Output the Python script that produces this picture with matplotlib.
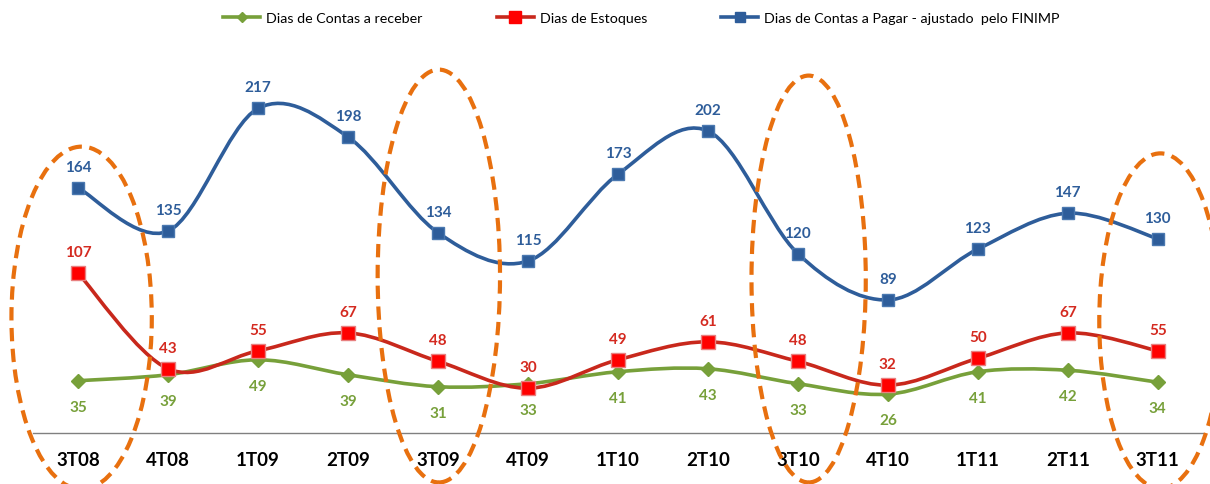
import matplotlib
matplotlib.use("Agg")
import matplotlib.pyplot as plt
from matplotlib.path import Path
from matplotlib.patches import PathPatch, Ellipse
from matplotlib.lines import Line2D
import numpy as np

plt.rcParams['font.family'] = ['Lato', 'DejaVu Sans']

quarters = ['3T08', '4T08', '1T09', '2T09', '3T09', '4T09', '1T10',
            '2T10', '3T10', '4T10', '1T11', '2T11', '3T11']
receber = [35, 39, 49, 39, 31, 33, 41, 43, 33, 26, 41, 42, 34]
estoques = [107, 43, 55, 67, 48, 30, 49, 61, 48, 32, 50, 67, 55]
pagar = [164, 135, 217, 198, 134, 115, 173, 202, 120, 89, 123, 147, 130]
highlight = ['3T08', '3T09', '3T10', '3T11']

GREEN = '#77A03A'
RED_LINE = '#C8281C'
RED_MK = '#FF0000'
BLUE = '#2E5D9A'
ORANGE = '#E8700F'


def smooth_path(xs, ys):
    # Excel-style smoothed line (Catmull-Rom as cubic Bezier)
    pts = np.column_stack([xs, ys]).astype(float)
    n = len(pts)
    verts = [pts[0]]
    codes = [Path.MOVETO]
    for i in range(n - 1):
        p0 = pts[max(i - 1, 0)]
        p1 = pts[i]
        p2 = pts[i + 1]
        p3 = pts[min(i + 2, n - 1)]
        verts += [p1 + (p2 - p0) / 6, p2 - (p3 - p1) / 6, p2]
        codes += [Path.CURVE4] * 3
    return Path(verts, codes)


fig = plt.figure(figsize=(12.1, 4.85), dpi=100)
ax = fig.add_axes([0.0273, 0.105, 0.9667, 0.771])
x = np.arange(len(quarters))

series = [
    (receber, GREEN, 'D', 7, GREEN, GREEN, 'Dias de Contas a receber', -26),
    (estoques, RED_LINE, 's', 10, RED_MK, '#E88080', 'Dias de Estoques', 21),
    (pagar, BLUE, 's', 8.5, BLUE, '#4A78B0', 'Dias de Contas a Pagar - ajustado  pelo FINIMP', 21),
]

handles = []
for vals, lc, mk, ms, mfc, mec, name, off in series:
    ax.add_patch(PathPatch(smooth_path(x, vals), fill=False, edgecolor=lc, lw=2.6,
                           zorder=3, capstyle='round'))
    ax.plot(x, vals, ls='none', marker=mk, ms=ms, mfc=mfc, mec=mec, mew=1, zorder=4)
    for xi, v in zip(x, vals):
        ax.annotate(str(v), (xi, v), xytext=(0, off * 0.72), textcoords='offset points',
                    ha='center', va='center', fontsize=11, fontweight='bold',
                    color=lc if lc != RED_LINE else '#D42A20')
    handles.append(Line2D([], [], color=lc, lw=2.6, marker=mk, ms=ms * 0.8,
                          mfc=mfc, mec=mfc, label=name))

ax.set_xlim(-0.5, len(quarters) - 0.5)
ax.set_ylim(0, 250)
for s in ['top', 'right', 'left']:
    ax.spines[s].set_visible(False)
ax.spines['bottom'].set_color('#808080')
ax.spines['bottom'].set_linewidth(1)
ax.set_yticks([])
ax.set_xticks(x)
ax.set_xticklabels(quarters, fontsize=13.5, fontweight='bold')
ax.tick_params(axis='x', length=0, pad=13)

# dashed highlight ellipses: (x offset, width, centre value, height in value units)
ell = {'3T08': (0.04, 1.56, 77, 229),
       '3T09': (0.01, 1.36, 105, 276),
       '3T10': (0.12, 1.27, 103, 272),
       '3T11': (0.03, 1.36, 75, 224)}
for q in highlight:
    i = quarters.index(q)
    dx, w, cy, h = ell[q]
    ax.add_patch(Ellipse((i + dx, cy), w, h, fill=False, edgecolor=ORANGE, lw=3,
                         ls=(0, (3.2, 1.8)), clip_on=False, zorder=5))

fig.legend(handles=handles, loc='upper center', bbox_to_anchor=(0.53, 1.0), ncol=3,
           frameon=False, fontsize=10.3, handlelength=2.6, columnspacing=5.2,
           handletextpad=0.4)

fig.savefig('out.png', dpi=100)
